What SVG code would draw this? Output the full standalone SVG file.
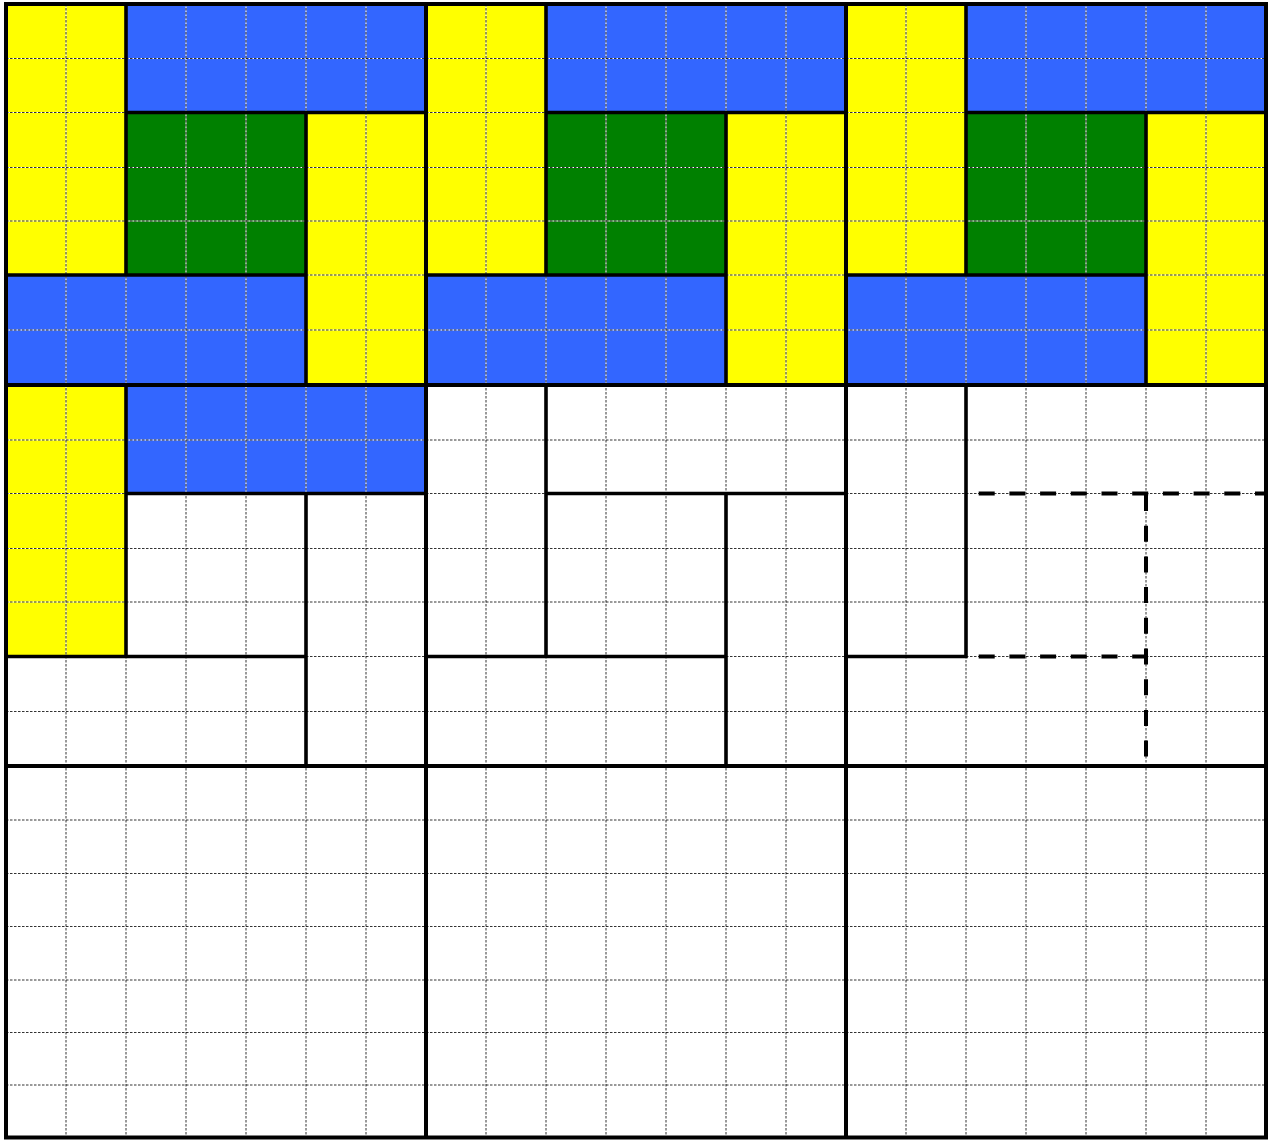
<svg xmlns="http://www.w3.org/2000/svg" width="1270" height="1140" viewBox="0 0 1270 1140">
<style>
.y{fill:#FFFF00}
.b{fill:#3366FF}
.g{fill:#008000}
.gridw{fill:none;stroke:#fff;stroke-width:1}
.gridk{fill:none;stroke:#000;stroke-width:1;stroke-dasharray:2.5 1.5;stroke-opacity:0.8}
.tile{fill:none;stroke:#000;stroke-width:3.6;stroke-linecap:square}
.dash{fill:none;stroke:#000;stroke-width:4;stroke-dasharray:16 14.7}
.block{fill:none;stroke:#000;stroke-width:4}
</style>
<rect x="0" y="0" width="1270" height="1140" fill="#fff"/>
<g id="block-0-0">
<rect class="y" x="6" y="4" width="120" height="271"/>
<rect class="b" x="126" y="4" width="300" height="108.5"/>
<rect class="g" x="126" y="112.5" width="180" height="162.5"/>
<rect class="y" x="306" y="112.5" width="120" height="272.5"/>
<rect class="b" x="6" y="275" width="300" height="110"/>
</g>
<g id="block-0-1">
<rect class="y" x="426" y="4" width="120" height="271"/>
<rect class="b" x="546" y="4" width="300" height="108.5"/>
<rect class="g" x="546" y="112.5" width="180" height="162.5"/>
<rect class="y" x="726" y="112.5" width="120" height="272.5"/>
<rect class="b" x="426" y="275" width="300" height="110"/>
</g>
<g id="block-0-2">
<rect class="y" x="846" y="4" width="120" height="271"/>
<rect class="b" x="966" y="4" width="300" height="108.5"/>
<rect class="g" x="966" y="112.5" width="180" height="162.5"/>
<rect class="y" x="1146" y="112.5" width="120" height="272.5"/>
<rect class="b" x="846" y="275" width="300" height="110"/>
</g>
<g id="block-1-0">
<rect class="y" x="6" y="385" width="120" height="271.5"/>
<rect class="b" x="126" y="385" width="300" height="108.5"/>
</g>
<g id="grid">
<path class="gridw" d="M66 4V1137.5M126 4V1137.5M186 4V1137.5M246 4V1137.5M306 4V1137.5M366 4V1137.5M426 4V1137.5M486 4V1137.5M546 4V1137.5M606 4V1137.5M666 4V1137.5M726 4V1137.5M786 4V1137.5M846 4V1137.5M906 4V1137.5M966 4V1137.5M1026 4V1137.5M1086 4V1137.5M1146 4V1137.5M1206 4V1137.5
M6 58.5H1266M6 112.5H1266M6 167.5H1266M6 221H1266M6 275H1266M6 330H1266M6 385H1266M6 440H1266M6 493.5H1266M6 548.5H1266M6 602H1266M6 656.5H1266M6 711.5H1266M6 766H1266M6 820H1266M6 873.5H1266M6 926.5H1266M6 980H1266M6 1032.5H1266M6 1085H1266"/>
<path class="gridk" d="M66 4V1137.5M126 4V1137.5M186 4V1137.5M246 4V1137.5M306 4V1137.5M366 4V1137.5M426 4V1137.5M486 4V1137.5M546 4V1137.5M606 4V1137.5M666 4V1137.5M726 4V1137.5M786 4V1137.5M846 4V1137.5M906 4V1137.5M966 4V1137.5M1026 4V1137.5M1086 4V1137.5M1146 4V1137.5M1206 4V1137.5
M6 58.5H1266M6 112.5H1266M6 167.5H1266M6 221H1266M6 275H1266M6 330H1266M6 385H1266M6 440H1266M6 493.5H1266M6 548.5H1266M6 602H1266M6 656.5H1266M6 711.5H1266M6 766H1266M6 820H1266M6 873.5H1266M6 926.5H1266M6 980H1266M6 1032.5H1266M6 1085H1266"/>
</g>
<g id="outlines">
<path class="tile" d="M126 4V275M126 112.5H426M306 112.5V385M6 275H306"/>
<path class="tile" d="M546 4V275M546 112.5H846M726 112.5V385M426 275H726"/>
<path class="tile" d="M966 4V275M966 112.5H1266M1146 112.5V385M846 275H1146"/>
<path class="tile" d="M126 385V656.5M126 493.5H426M306 493.5V766M6 656.5H306"/>
<path class="tile" d="M546 385V656.5M546 493.5H846M726 493.5V766M426 656.5H726"/>
<path class="tile" d="M966 385V656.5M846 656.5H966"/>
<path class="dash" d="M978.7 493.5H1266M978.7 656.5H1146M1146 495V766"/>
</g>
<g id="blocks">
<path class="block" d="M426 4V1137.5M846 4V1137.5M6 385H1266M6 766H1266"/>
<rect class="block" x="6" y="4" width="1260" height="1133.5"/>
</g>
</svg>
